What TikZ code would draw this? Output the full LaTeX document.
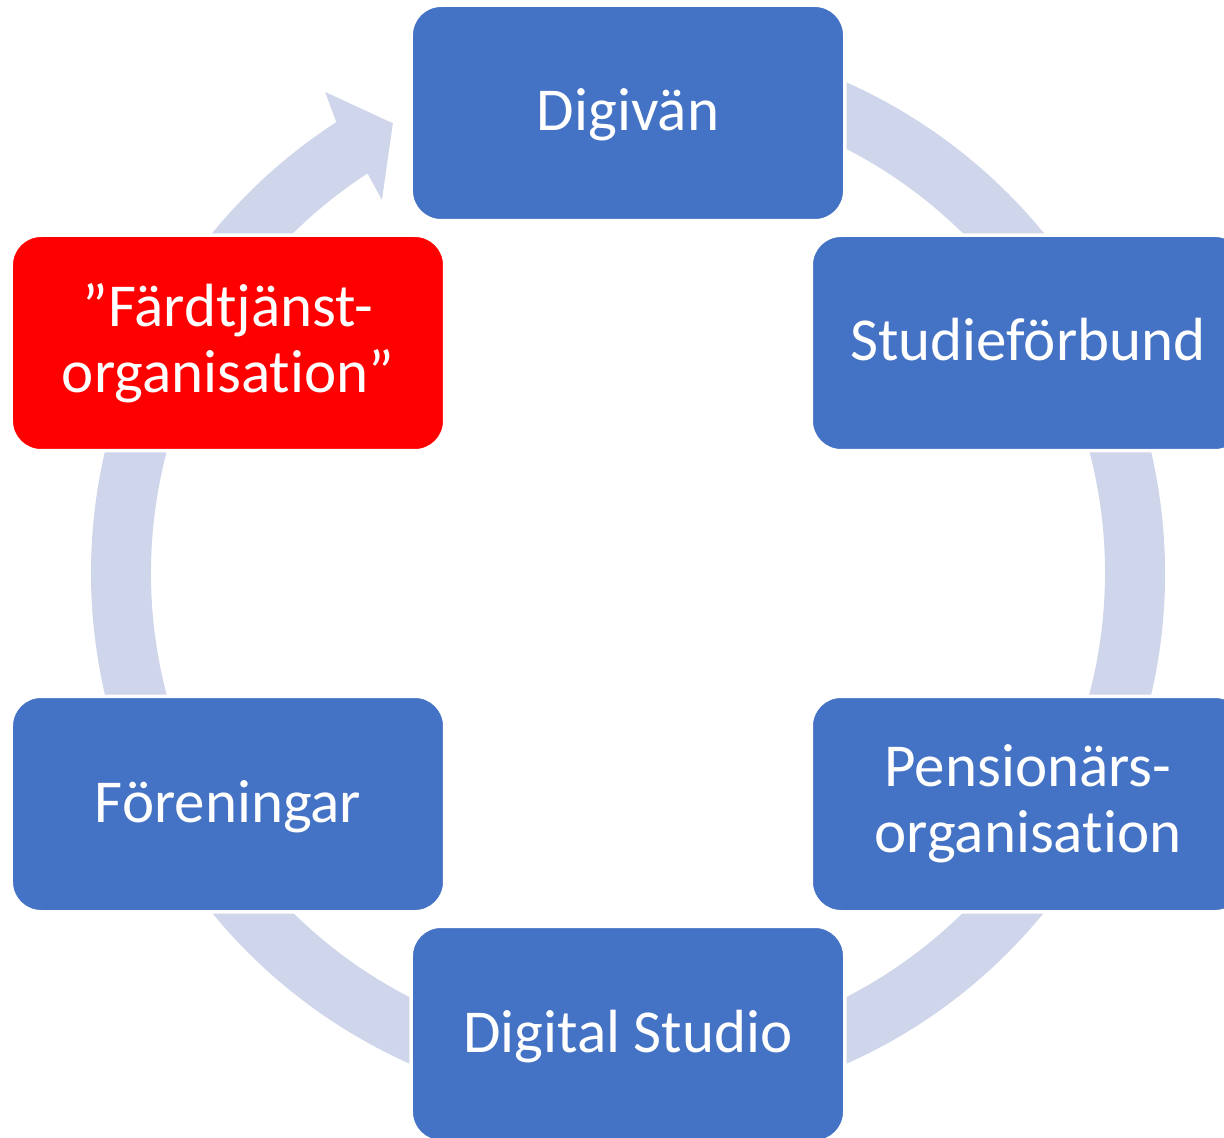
\documentclass[tikz,border=0pt]{standalone}
\usepackage{fontspec}
\setmainfont{Carlito}[Ligatures={CommonOff}]
\definecolor{boxblue}{HTML}{4472C4}
\definecolor{ringcol}{HTML}{CFD5EA}
\definecolor{boxred}{HTML}{FF0000}
\tikzset{
  cyclebox/.style={rounded corners=29.75pt, minimum width=433.5pt, minimum height=215.5pt,
    draw=white, line width=3.5pt, fill=boxblue, text=white, align=center,
    font=\fontsize{61pt}{66pt}\selectfont, inner sep=0pt},
  onelinebox/.style={cyclebox, text height=48pt, text depth=12pt},
  redbox/.style={cyclebox, fill=boxred}
}
\begin{document}
\begin{tikzpicture}[x=1pt,y=1pt]
\useasboundingbox (-628,-565) rectangle (596,573);
\clip (-628,-565) rectangle (596,573);
% ring arrow
\fill[ringcol] (100:537) arc[start angle=100, end angle=-237.1, radius=537]
  -- (-237.8:568.5) -- (-242.4:507.5) -- (-236.6:447) -- (-236.9:477)
  arc[start angle=-236.9, end angle=100, radius=477] -- cycle;
% boxes
\node[onelinebox] (digivan) at (0,460) {Digivän};
\node[onelinebox] (studie) at (400,230) {Studieförbund};
\node[cyclebox] (pension) at (400,-231) {Pensionärs-\\organisation};
\node[onelinebox] (digstudio) at (0,-461) {Digital Studio};
\node[onelinebox] (foren) at (-400,-231) {Föreningar};
\node[redbox] (fardt) at (-400,230) {”Färdtjänst-\\organisation”};
\end{tikzpicture}
\end{document}
